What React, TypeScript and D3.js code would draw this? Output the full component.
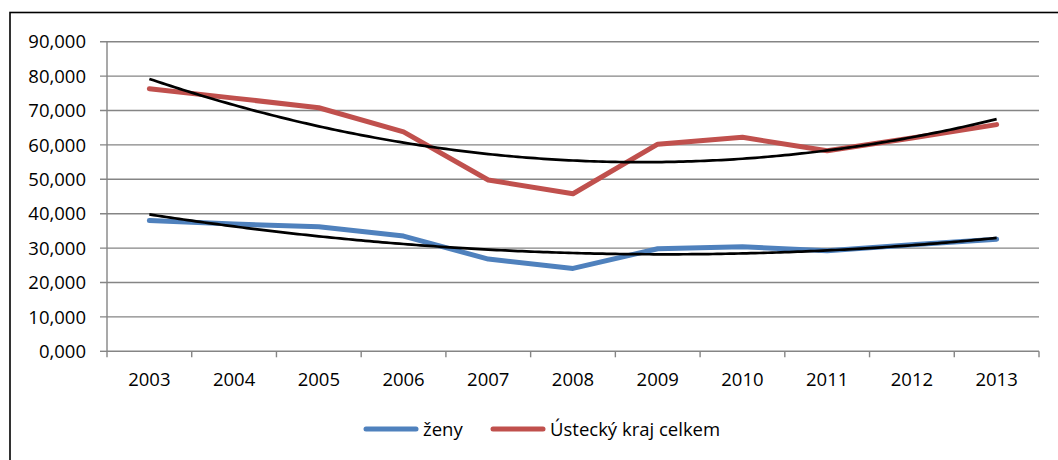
import React from 'react';
import * as d3 from 'd3';

const years = ['2003', '2004', '2005', '2006', '2007', '2008', '2009', '2010', '2011', '2012', '2013'];
const zenyValues = [38.0, 37.0, 36.2, 33.5, 26.8, 24.1, 29.8, 30.4, 29.2, 31.0, 32.6];
const krajValues = [76.3, 73.6, 70.8, 63.8, 49.8, 45.8, 60.2, 62.2, 58.3, 62.0, 65.9];
const yTickValues = [0, 10, 20, 30, 40, 50, 60, 70, 80, 90];
const seriesNames = ['ženy', 'Ústecký kraj celkem'];
const seriesColors = ['#4F81BD', '#C0504D'];

const W = 1058;
const H = 460;
const FONT = '"Open Sans", sans-serif';
const FS = 18.5;

// quadratic least-squares trendline (as Excel polynomial order 2)
function polyfit2(ys: number[]) {
  let s0 = 0, s1 = 0, s2 = 0, s3 = 0, s4 = 0, t0 = 0, t1 = 0, t2 = 0;
  ys.forEach((v, i) => {
    const x = i;
    s0 += 1; s1 += x; s2 += x * x; s3 += x * x * x; s4 += x * x * x * x;
    t0 += v; t1 += x * v; t2 += x * x * v;
  });
  const A = [[s0, s1, s2], [s1, s2, s3], [s2, s3, s4]];
  const b = [t0, t1, t2];
  const det = (m: number[][]) =>
    m[0][0] * (m[1][1] * m[2][2] - m[1][2] * m[2][1]) -
    m[0][1] * (m[1][0] * m[2][2] - m[1][2] * m[2][0]) +
    m[0][2] * (m[1][0] * m[2][1] - m[1][1] * m[2][0]);
  const D = det(A);
  const coef = [0, 1, 2].map((k) => {
    const M = A.map((row, r) => row.map((v, c) => (c === k ? b[r] : v)));
    return det(M) / D;
  });
  return (x: number) => coef[0] + coef[1] * x + coef[2] * x * x;
}

export default function App() {
  const x = d3.scaleBand<string>().domain(years).range([107, 1039]);
  const y = d3.scaleLinear().domain([0, 90]).range([351.3, 41.7]);
  const cx = (i: number) => (x(years[i]) as number) + x.bandwidth() / 2;
  const xi = d3.scaleLinear().domain([0, years.length - 1]).range([cx(0), cx(years.length - 1)]);

  const line = d3.line<number>().x((_, i) => cx(i)).y((d) => y(d));

  const makeTrend = (vals: number[]) => {
    const f = polyfit2(vals);
    const ts = d3.range(0, years.length - 1 + 1e-9, 0.05);
    return d3.line<number>().x((t) => xi(t)).y((t) => y(f(t)))(ts) as string;
  };

  const fmt = (v: number) => d3.format('.3f')(v).replace('.', ',');
  const grid = '#858585';
  const bounds = years.map((yr) => x(yr) as number).concat([x.range()[1]]);

  return (
    <svg width={W} height={H} style={{ position: 'absolute', left: 0, top: 0, background: '#fff' }}>
      <rect x={0} y={0} width={W} height={H} fill="#fff" />
      <rect x={10} y={12.5} width={W + 20} height={H + 20} fill="none" stroke="#000" strokeWidth={1.6} />
      {yTickValues.slice(1).map((v) => (
        <line key={'g' + v} x1={100} x2={1039} y1={y(v)} y2={y(v)} stroke={grid} strokeWidth={1.4} />
      ))}
      <line x1={100} x2={107} y1={y(0)} y2={y(0)} stroke={grid} strokeWidth={1.4} />
      <line x1={107} x2={107} y1={y(90)} y2={y(0)} stroke={grid} strokeWidth={1.4} />
      <line x1={107} x2={1039} y1={y(0)} y2={y(0)} stroke={grid} strokeWidth={1.4} />
      {bounds.map((b, i) => (
        <line key={'t' + i} x1={b} x2={b} y1={y(0)} y2={y(0) + 6} stroke={grid} strokeWidth={1.4} />
      ))}
      {yTickValues.map((v) => (
        <text key={'yl' + v} x={86} y={y(v)} dy="0.36em" textAnchor="end" fontFamily={FONT} fontSize={FS} fill="#000">
          {fmt(v)}
        </text>
      ))}
      {years.map((yr, i) => (
        <text key={'xl' + yr} x={cx(i)} y={386} textAnchor="middle" fontFamily={FONT} fontSize={FS} fill="#000">
          {yr}
        </text>
      ))}
      <path d={line(zenyValues) as string} fill="none" stroke={seriesColors[0]} strokeWidth={5} strokeLinejoin="round" strokeLinecap="round" />
      <path d={line(krajValues) as string} fill="none" stroke={seriesColors[1]} strokeWidth={5} strokeLinejoin="round" strokeLinecap="round" />
      <path d={makeTrend(zenyValues)} fill="none" stroke="#000" strokeWidth={2.7} />
      <path d={makeTrend(krajValues)} fill="none" stroke="#000" strokeWidth={2.7} />
      {/* legend */}
      <line x1={366} x2={416} y1={429} y2={429} stroke={seriesColors[0]} strokeWidth={5} strokeLinecap="round" />
      <text x={423} y={429} dy="0.36em" fontFamily={FONT} fontSize={FS} fill="#000">{seriesNames[0]}</text>
      <line x1={493} x2={543} y1={429} y2={429} stroke={seriesColors[1]} strokeWidth={5} strokeLinecap="round" />
      <text x={550} y={429} dy="0.36em" fontFamily={FONT} fontSize={FS} fill="#000">{seriesNames[1]}</text>
    </svg>
  );
}
